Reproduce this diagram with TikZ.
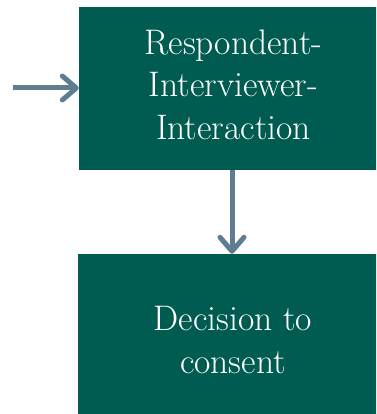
\documentclass[tikz,border=0pt]{standalone}
\usetikzlibrary{arrows.meta}
\definecolor{boxgreen}{RGB}{0,92,80}
\definecolor{arrowblue}{RGB}{95,125,145}
\begin{document}
\begin{tikzpicture}[x=1pt,y=-1pt,
  box/.style={fill=boxgreen, draw=none, text=white, align=center,
    font=\fontsize{35.5}{42.5}\selectfont, inner sep=0pt},
  arr/.style={draw=arrowblue, line width=5pt,
    -{Straight Barb[length=14pt,width=24pt,round]}}]
\useasboundingbox (0,0) rectangle (376,414);
\clip (0,0) rectangle (376,414);
\node[box, minimum width=309pt, minimum height=163pt] (top) at (233.5,88.5)
  {\raisebox{3pt}{\begin{tabular}{@{}c@{}}Respondent-\\Interviewer-\\Interaction\end{tabular}}};
\node[box, minimum width=310pt, minimum height=172pt] (bot) at (233,340)
  {Decision to\\consent};
\coordinate (in) at (13,88);
\draw[arr] (in) -- (top.west |- in);
\draw[arr] ([xshift=-1.5pt]top.south) -- ([xshift=-1pt]bot.north);
\end{tikzpicture}
\end{document}
